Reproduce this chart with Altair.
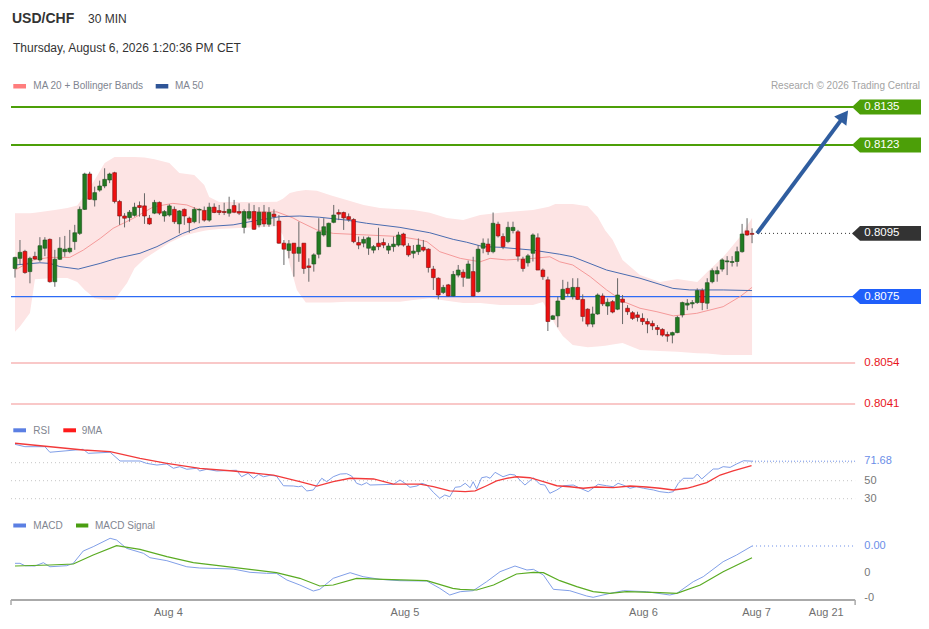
import altair as alt
import pandas as pd

FONT = "Liberation Sans"

# ---------------- data ----------------
open_ = [
    .80839, .80871, .80893, .80829, .80877, .80866, .80903, .80931, .80797, .80868,
    .80892, .80892, .80924, .80950, .81026, .81138, .81056, .81087, .81100, .81119,
    .81142, .81051, .81005, .81000, .81007, .81038, .81037, .80998, .81014, .81048,
    .81005, .81008, .81026, .80980, .81026, .80998, .80987, .81024, .81022, .80992,
    .81033, .81022, .81019, .81014, .81038, .81019, .80969, .80998, .81019, .80977,
    .81017, .80979, .81011, .80989, .80919, .80896, .80919, .80887, .80919, .80847,
    .80853, .80884, .80945, .80908, .80985, .81016, .81016, .81003, .80994, .80921,
    .80919, .80903, .80897, .80919, .80921, .80897, .80908, .80913, .80948, .80910,
    .80887, .80892, .80906, .80900, .80837, .80808, .80763, .80787, .80752, .80818,
    .80827, .80808, .80829, .80766, .80903, .80916, .80892, .80979, .80940, .80924,
    .80959, .80955, .80868, .80857, .80887, .80936, .80834, .80803, .80678, .80689,
    .80741, .80776, .80750, .80779, .80741, .80710, .80663, .80695, .80752, .80720,
    .80734, .80710, .80742, .80713, .80699, .80692, .80681, .80671, .80665, .80652,
    .80646, .80630, .80628, .80636, .80692, .80723, .80727, .80731, .80769, .80729,
    .80797, .80822, .80837, .80860, .80858, .80861, .80892, .80958, .80950]
high = [
    .80876, .80929, .80898, .80876, .80892, .80938, .80938, .80934, .80898, .80938,
    .80942, .80961, .80977, .81035, .81142, .81145, .81098, .81117, .81156, .81142,
    .81145, .81056, .81014, .81024, .81047, .81051, .81077, .81008, .81056, .81051,
    .81024, .81042, .81035, .81024, .81029, .81003, .81033, .81029, .81035, .81047,
    .81045, .81040, .81047, .81066, .81056, .81045, .81026, .81045, .81040, .81033,
    .81040, .81033, .81026, .81008, .80929, .80929, .80919, .80987, .80919, .80871,
    .80887, .80998, .80998, .80984, .81040, .81026, .81019, .81013, .80998, .80940,
    .80940, .80940, .80913, .80968, .80934, .80919, .80940, .80955, .80952, .80919,
    .80913, .80934, .80929, .80903, .80847, .80811, .80787, .80790, .80831, .80850,
    .80836, .80864, .80876, .80913, .80934, .80934, .81016, .80987, .80950, .80987,
    .80987, .80961, .80876, .80885, .80950, .80950, .80839, .80813, .80692, .80750,
    .80803, .80797, .80808, .80808, .80757, .80713, .80718, .80760, .80760, .80744,
    .80739, .80808, .80755, .80723, .80704, .80702, .80697, .80681, .80674, .80660,
    .80650, .80639, .80639, .80689, .80734, .80742, .80739, .80776, .80776, .80808,
    .80839, .80845, .80871, .80878, .80878, .80908, .80980, .80998, .80966]
low = [
    .80810, .80850, .80822, .80792, .80866, .80860, .80878, .80794, .80781, .80866,
    .80876, .80887, .80898, .80945, .81024, .81056, .81035, .81082, .81093, .81109,
    .81045, .80977, .80969, .80987, .81003, .81003, .80980, .80977, .81011, .81008,
    .80987, .81003, .80980, .80950, .80977, .80952, .80982, .80982, .80987, .80987,
    .81014, .81008, .81008, .81003, .81014, .81008, .80950, .80992, .80961, .80969,
    .80971, .80971, .80973, .80917, .80850, .80871, .80813, .80860, .80822, .80797,
    .80829, .80871, .80940, .80908, .80982, .80992, .80961, .80987, .80919, .80900,
    .80906, .80882, .80887, .80897, .80903, .80885, .80892, .80908, .80908, .80876,
    .80871, .80882, .80892, .80826, .80771, .80741, .80758, .80750, .80750, .80811,
    .80781, .80808, .80750, .80762, .80887, .80882, .80887, .80937, .80900, .80919,
    .80950, .80861, .80829, .80845, .80861, .80834, .80803, .80641, .80676, .80653,
    .80739, .80750, .80741, .80739, .80671, .80655, .80653, .80692, .80720, .80692,
    .80697, .80707, .80663, .80692, .80676, .80671, .80660, .80634, .80644, .80628,
    .80623, .80607, .80602, .80634, .80684, .80707, .80713, .80727, .80707, .80710,
    .80792, .80797, .80829, .80818, .80845, .80845, .80889, .80942, .80919]
close = [
    .80874, .80890, .80826, .80871, .80869, .80911, .80929, .80797, .80868, .80903,
    .80900, .80903, .80952, .81026, .81138, .81058, .81079, .81100, .81121, .81138,
    .81051, .81005, .80998, .81017, .81033, .81032, .81005, .80980, .81048, .81014,
    .81019, .81037, .80987, .81021, .81005, .80984, .81026, .81026, .80992, .81033,
    .81016, .81016, .81016, .81026, .81017, .81014, .81019, .81019, .80963, .81017,
    .80980, .81016, .81003, .80919, .80900, .80917, .80887, .80906, .80839, .80842,
    .80882, .80955, .80971, .80982, .81008, .81011, .80999, .80994, .80924, .80913,
    .80931, .80936, .80908, .80908, .80913, .80910, .80916, .80945, .80913, .80882,
    .80894, .80913, .80897, .80842, .80810, .80755, .80779, .80752, .80820, .80834,
    .80811, .80853, .80752, .80900, .80919, .80892, .80982, .80942, .80908, .80969,
    .80969, .80878, .80839, .80879, .80945, .80834, .80813, .80671, .80689, .80736,
    .80773, .80760, .80779, .80741, .80687, .80663, .80695, .80755, .80727, .80732,
    .80701, .80755, .80732, .80702, .80681, .80684, .80671, .80663, .80657, .80646,
    .80628, .80625, .80636, .80684, .80731, .80729, .80731, .80769, .80731, .80794,
    .80832, .80832, .80866, .80863, .80861, .80892, .80948, .80945, .80947]

band_i = [0, 1, 3, 4, 8, 10.5, 12.5, 14, 16, 18, 20, 22.5, 24, 26, 28, 31, 33, 34.5, 36, 38,
          39, 41, 45, 50, 52.6, 53.8, 55.2, 56.6, 58.4, 60.6, 63.5, 66.6, 70, 73.3, 77.3, 80,
          83.3, 86.7, 90, 93.4, 97.4, 99, 104, 106, 107.2, 108.5, 110, 112, 115, 117, 118.5,
          120, 122, 125.5, 129.5, 133, 137, 139, 142.2, 145.6, 148]
band_up = [.81014, .81014, .81014, .81015, .81024, .81030, .81038, .81071, .81119, .81173,
           .81192, .81192, .81192, .81190, .81185, .81173, .81141, .81138, .81135, .81103,
           .81065, .81049, .81049, .81049, .81050, .81060, .81078, .81083, .81087, .81085,
           .81070, .81056, .81040, .81030, .81026, .81024, .81015, .80999, .80992, .81008,
           .81015, .81018, .81024, .81030, .81034, .81043, .81043, .81043, .81036, .81002,
           .80960, .80930, .80866, .80818, .80796, .80806, .80796, .80828, .80875, .80939,
           .80999]
band_lo = [.80639, .80655, .80698, .80805, .80809, .80809, .80796, .80771, .80745, .80740,
           .80740, .80793, .80840, .80870, .80890, .80920, .80935, .80945, .80951, .80958,
           .80961, .80964, .80967, .80970, .80973, .80945, .80850, .80771, .80731, .80731,
           .80731, .80734, .80734, .80734, .80734, .80739, .80745, .80737, .80730, .80730,
           .80723, .80723, .80723, .80733, .80700, .80660, .80625, .80597, .80590, .80592,
           .80594, .80598, .80603, .80581, .80578, .80575, .80571, .80570, .80565, .80565,
           .80565]

ma20_i = [0, 3.7, 7, 11, 13.7, 17.1, 19.7, 23.8, 27.8, 31.7, 34.5, 37.1, 43.2, 49.2, 52.6,
          55.8, 57.2, 60.6, 63.9, 70.6, 77.3, 80.7, 82.7, 85.3, 89.4, 93.4, 95.4, 98.7, 104.1,
          107.4, 109.4, 112, 115.5, 118.8, 122.2, 125.5, 128.9, 132.2, 136.9, 142.2, 145.6, 148]
ma20_v = [.80834, .80866, .80874, .80874, .80897, .80934, .80966, .80998, .81034, .81045,
          .81040, .81024, .81018, .81018, .81018, .80999, .80987, .80961, .80950, .80945,
          .80940, .80931, .80924, .80892, .80871, .80860, .80871, .80866, .80871, .80876,
          .80860, .80850, .80813, .80771, .80734, .80713, .80702, .80689, .80697, .80718,
          .80750, .80779]
ma50_i = [0, 5, 7, 9, 12.7, 17.1, 20.4, 25.1, 28.5, 33.7, 37.1, 43.8, 47.2, 53.2, 57.2, 61.2,
          66.6, 70.6, 77.3, 83.3, 88, 90.7, 94, 97.4, 104, 109.4, 112, 118.8, 125.5, 132.1,
          135.5, 142.2, 148]
ma50_v = [.80850, .80857, .80855, .80845, .80837, .80855, .80871, .80887, .80908, .80950,
          .80970, .80977, .80987, .81003, .81005, .81001, .80992, .80982, .80969, .80952,
          .80931, .80922, .80908, .80906, .80897, .80884, .80876, .80834, .80808, .80776,
          .80771, .80771, .80769]

rsi_i = [0, 2, 6, 7, 13.7, 14.7, 19.1, 21.1, 25.1, 26.4, 28.5, 30.5, 31.8, 33.1, 34.5, 36.5,
         37.1, 38.5, 40.5, 44.5, 45.5, 46.8, 47.9, 48.9, 49.9, 51.2, 52.5, 53.9, 55.9, 56.9,
         57.6, 58.6, 59.9, 61.6, 62.6, 63.9, 65.3, 66.6, 67.6, 68.6, 69.6, 70.6, 71.3, 76,
         77.3, 78.3, 79.3, 80.7, 81.7, 82.7, 84, 85.3, 86.3, 87.3, 88.4, 89.4, 90.4, 91.4, 92,
         92.7, 93.7, 94.7, 95.4, 96.4, 98, 99.4, 100.4, 101.7, 102.4, 104.1, 105.4, 106.4,
         107.4, 108.8, 110.1, 112.1, 113.5, 115.1, 117.1, 118.8, 120.1, 121.1, 122.1, 123.5,
         124.8, 126.2, 128.2, 129.5, 131.2, 132.2, 133.2, 134.2, 136.2, 137, 137.9, 139.2,
         140.2, 141.2, 142.2, 143.6, 144.9, 146.3, 148]
rsi_v = [90.4, 87.8, 87.8, 81.6, 84.9, 80.4, 81.6, 71.9, 71.9, 69.3, 67.4, 68.6, 63.8, 65.6,
         62.7, 63.8, 60.8, 62.7, 60.8, 61.6, 54.4, 58.2, 52.7, 57.1, 54.4, 56.0, 55.2, 44.4,
         44.1, 43.3, 44.1, 38.6, 39.7, 52.7, 48.9, 54.4, 57.4, 57.8, 55.2, 47.1, 45.2, 47.8,
         45.2, 46.0, 50.8, 47.1, 42.7, 44.1, 47.1, 45.2, 37.1, 30.4, 34.1, 32.2, 42.7, 43.3,
         47.1, 42.2, 48.9, 40.8, 53.3, 54.4, 52.7, 59.3, 54.4, 57.1, 56.3, 48.9, 45.2, 53.3,
         46.0, 45.2, 36.0, 39.7, 44.4, 45.2, 41.6, 37.8, 46.0, 44.4, 43.3, 47.1, 45.2, 41.6,
         43.3, 41.6, 39.7, 37.8, 36.7, 37.8, 47.1, 52.7, 52.7, 57.4, 51.9, 58.2, 63.0, 63.0,
         65.6, 64.8, 68.6, 72.2, 71.68]
rsima_i = [0, 13.7, 19.1, 25.1, 30.5, 37.1, 43.8, 51.9, 57.2, 60.6, 63.9, 67.3, 72, 76, 81.3,
           84, 87.3, 90.4, 92.4, 94.7, 96.7, 98.7, 100.7, 103.4, 106.1, 108.8, 111.4, 114.1,
           116.8, 120.1, 123.5, 126.8, 129.5, 132.2, 134.9, 136.2, 138.9, 141.6, 144.2, 147.9]
rsima_v = [91.6, 84.1, 82.2, 74.9, 69.3, 63.8, 60.8, 56.3, 48.9, 44.1, 48.9, 52.7, 51.9, 46.3,
           46.3, 43.3, 38.6, 37.8, 38.6, 44.4, 49.7, 52.7, 54.4, 53.3, 48.9, 44.4, 43.3, 41.6,
           43.0, 42.2, 44.1, 43.0, 41.6, 39.7, 41.6, 43.3, 47.8, 56.3, 60.8, 66.7]

macd_i = [0, 1, 2, 4, 5.7, 7, 10.4, 11.7, 13.7, 15.7, 19.1, 20.4, 22.4, 25.8, 27.1, 30.5, 34.5,
          37.1, 43.8, 47.2, 50.5, 52.5, 54.6, 57.2, 59.9, 61.2, 63.9, 67.3, 69.9, 73.3, 77.3,
          82.7, 85.3, 87.3, 89.4, 92, 94.7, 97.4, 100.4, 102.8, 104.1, 106.1, 108.1, 111.4,
          114.8, 116.1, 119.5, 122.2, 126.8, 131.5, 132.9, 136.2, 138.2, 142.2, 144.9, 148]
macd_v = [0.000155, 0.000155, 0.000117, 0.000112, 0.000165, 0.0001, 0.000117, 0.000155,
          0.000352, 0.000421, 0.000555, 0.000528, 0.000395, 0.000315, 0.000245, 0.000197,
          0.0001, 0.00008, 0.000064, 0.000011, -0.000005, -0.000005, -0.000112, -0.000192,
          -0.000288, -0.000261, -0.000085, 0.000005, -0.000059, -0.000101, -0.000123,
          -0.000128, -0.000245, -0.000352, -0.000299, -0.000283, -0.000139, 0.000021,
          0.000112, 0.000048, 0.000059, -0.000032, -0.000261, -0.000283, -0.000368,
          -0.000389, -0.000325, -0.000283, -0.000299, -0.000352, -0.000325, -0.000139,
          -0.000059, 0.000181, 0.000288, 0.000432]
sig_i = [0, 7, 11.7, 15.7, 20.4, 25.1, 30.5, 35.8, 43.8, 52.5, 57.2, 61.2, 63.9, 68.6, 74,
         82.7, 87.9, 89.4, 92.7, 96.1, 100.7, 104.1, 106.1, 109.4, 112.8, 116.1, 119.5, 122.8,
         129.5, 132.9, 137.6, 142.2, 148]
sig_v = [0.000112, 0.000128, 0.000144, 0.000288, 0.000437, 0.000379, 0.000261, 0.000165,
         0.000091, 0.000005, -0.000085, -0.000208, -0.000192, -0.000085, -0.000101,
         -0.000123, -0.000245, -0.000261, -0.000272, -0.000192, -0.000016, 0.000011,
         0.000005, -0.000123, -0.000219, -0.000299, -0.000325, -0.000299, -0.000315,
         -0.000325, -0.000192, 0.000021, 0.000245]

levels = [0.8135, 0.8123, 0.8095, 0.8075, 0.8054, 0.8041]
level_labels = ["0.8135", "0.8123", "0.8095", "0.8075", "0.8054", "0.8041"]
rsi_levels = [70, 50, 30]
rsi_last = 71.68
macd_last = 0.000432
macd_ticks = [0, -0.0004]
macd_tick_labels = ["0", "-0"]
tick_pos = [30.8, 78.3, 126.2, 148.9, 162.9]
tick_labels = ["Aug 4", "Aug 5", "Aug 6", "Aug 7", "Aug 21"]
AX0, AX1 = -0.8, 168.7          # extent of the time axis (candle index units)
arrow_from = (149, 0.8095)
arrow_to = (166.5, 0.81322)

# ---------------- scales (pixel bands of the three panels) ----------------
XS = alt.Scale(domain=[0, 148], range=[7, 744.04], nice=False, zero=False, padding=0)
PS = alt.Scale(domain=[0.8041, 0.8135], range=[396, 99], nice=False, zero=False, padding=0)
RS = alt.Scale(domain=[30, 70], range=[490.7, 454.7], nice=False, zero=False, padding=0)
MS = alt.Scale(domain=[-0.0004, 0], range=[590, 565], nice=False, zero=False, padding=0)

GREEN_LVL = "#4c9f08"
BLUE_LVL = "#2d6bf5"
RED_LVL = "#f7b6b6"
TAG_PATH = "M -1 0 L -0.768 -0.217 L 1 -0.217 L 1 0.217 L -0.768 0.217 Z"
TAG_SIZE = 69 * 69
TAG_X = 878.5
LABEL_X = 856.3


def X(f):
    return alt.X(f, type="quantitative", scale=XS, axis=None)


def Yp(f, sc):
    return alt.Y(f, type="quantitative", scale=sc, axis=None)


def text_at(s, x, y, size=10, color="#7f8590", weight="normal", align="left"):
    return alt.Chart(pd.DataFrame({"t": [s]})).mark_text(
        align=align, baseline="middle", fontSize=size, color=color,
        fontWeight=weight, font=FONT).encode(
        text="t:N", x=alt.value(x), y=alt.value(y))


def swatch(x0, x1, y0, y1, color):
    return alt.Chart(pd.DataFrame({"a": [0]})).mark_rect(color=color).encode(
        x=alt.value(x0), x2=alt.value(x1), y=alt.value(y0), y2=alt.value(y1))


# ---------------- price panel ----------------
candles = pd.DataFrame({"i": list(range(len(open_))), "open": open_, "high": high,
                        "low": low, "close": close})
band_df = pd.DataFrame({"i": band_i, "hi": band_up, "lo": band_lo})

price_layers = [
    alt.Chart(band_df).mark_area(color="#fde4e4", opacity=1).encode(
        x=X("i"), y=Yp("lo", PS), y2="hi"),
]

level_style = {
    0.8135: dict(color=GREEN_LVL, strokeWidth=2),
    0.8123: dict(color=GREEN_LVL, strokeWidth=2),
    0.8075: dict(color=BLUE_LVL, strokeWidth=1.3),
    0.8054: dict(color=RED_LVL, strokeWidth=1.5),
    0.8041: dict(color=RED_LVL, strokeWidth=1.5),
}
for lv, st in level_style.items():
    price_layers.append(
        alt.Chart(pd.DataFrame({"lvl": [lv], "x0": [AX0], "x1": [AX1]})).mark_rule(**st).encode(
            x=X("x0"), x2="x1", y=Yp("lvl", PS)))
price_layers.append(
    alt.Chart(pd.DataFrame({"lvl": [levels[2]], "x0": [arrow_from[0]], "x1": [AX1]})).mark_rule(
        color="#333333", strokeWidth=1, strokeDash=[1, 3]).encode(
        x=X("x0"), x2="x1", y=Yp("lvl", PS)))

price_layers += [
    alt.Chart(pd.DataFrame({"i": ma20_i, "v": ma20_v})).mark_line(
        color="#f59a9a", strokeWidth=1).encode(x=X("i"), y=Yp("v", PS)),
    alt.Chart(pd.DataFrame({"i": ma50_i, "v": ma50_v})).mark_line(
        color="#4a6cb0", strokeWidth=1).encode(x=X("i"), y=Yp("v", PS)),
    alt.Chart(candles).mark_rule(color="#666666", strokeWidth=1).encode(
        x=X("i"), y=Yp("low", PS), y2="high"),
    alt.Chart(candles).mark_bar(width=3.8, strokeWidth=0.6).encode(
        x=X("i"), y=Yp("open", PS), y2="close",
        color=alt.when("datum.close >= datum.open").then(alt.value("#217a21")).otherwise(alt.value("#ee1010")),
        stroke=alt.when("datum.close >= datum.open").then(alt.value("#1f4f1f")).otherwise(alt.value("#7a1010"))),
]

arrow_df = pd.DataFrame({"x0": [arrow_from[0]], "y0": [arrow_from[1]],
                         "x1": [arrow_to[0]], "y1": [arrow_to[1]]})
price_layers += [
    alt.Chart(arrow_df).mark_rule(color="#2f5d9f", strokeWidth=4).encode(
        x=X("x0"), y=Yp("y0", PS), x2="x1", y2="y1"),
    alt.Chart(arrow_df).mark_point(shape="triangle-up", filled=True, size=230, angle=36.5,
                                   color="#2f5d9f", opacity=1).encode(
        x=X("x1"), y=Yp("y1", PS)),
]

tag_colors = {0: GREEN_LVL, 1: GREEN_LVL, 2: "#333333", 3: "#1f5ffa"}
for k, c in tag_colors.items():
    d = pd.DataFrame({"lvl": [levels[k]], "lab": [level_labels[k]]})
    price_layers.append(alt.Chart(d).mark_point(
        shape=TAG_PATH, filled=True, size=TAG_SIZE, opacity=1, color=c, strokeWidth=0).encode(
        x=alt.value(TAG_X), y=Yp("lvl", PS)))
    price_layers.append(alt.Chart(d).mark_text(
        align="left", baseline="middle", fontSize=11.5, color="white", font=FONT).encode(
        x=alt.value(LABEL_X), y=Yp("lvl", PS), text="lab:N"))
for k in (4, 5):
    d = pd.DataFrame({"lvl": [levels[k]], "lab": [level_labels[k]]})
    price_layers.append(alt.Chart(d).mark_text(
        align="left", baseline="middle", fontSize=11.5, color="#e8161c", font=FONT).encode(
        x=alt.value(LABEL_X), y=Yp("lvl", PS), text="lab:N"))

price = alt.layer(*price_layers)

# ---------------- RSI panel ----------------
rsi_layers = [
    alt.Chart(pd.DataFrame({"v": rsi_levels, "x0": [AX0] * 3, "x1": [AX1] * 3})).mark_rule(
        color="#c4c4c4", strokeWidth=1, strokeDash=[1, 3]).encode(
        x=X("x0"), x2="x1", y=Yp("v", RS)),
    alt.Chart(pd.DataFrame({"v": [rsi_last], "x0": [148], "x1": [AX1]})).mark_rule(
        color="#6b8ee8", strokeWidth=1, strokeDash=[1, 2]).encode(
        x=X("x0"), x2="x1", y=Yp("v", RS)),
    alt.Chart(pd.DataFrame({"i": rsi_i, "v": rsi_v})).mark_line(
        color="#819fe8", strokeWidth=1).encode(x=X("i"), y=Yp("v", RS)),
    alt.Chart(pd.DataFrame({"i": rsima_i, "v": rsima_v})).mark_line(
        color="#f23a3a", strokeWidth=1.3).encode(x=X("i"), y=Yp("v", RS)),
    alt.Chart(pd.DataFrame({"v": [rsi_last], "lab": [f"{rsi_last:.2f}"]})).mark_text(
        align="left", baseline="middle", fontSize=11, color="#6b8ee8", font=FONT).encode(
        x=alt.value(LABEL_X), y=Yp("v", RS), text="lab:N"),
    alt.Chart(pd.DataFrame({"v": rsi_levels[1:], "lab": [str(v) for v in rsi_levels[1:]]})).mark_text(
        align="left", baseline="middle", fontSize=11, color="#777777", font=FONT).encode(
        x=alt.value(LABEL_X), y=Yp("v", RS), text="lab:N"),
]
rsi = alt.layer(*rsi_layers)

# ---------------- MACD panel ----------------
macd_layers = [
    alt.Chart(pd.DataFrame({"v": [macd_last], "x0": [148], "x1": [AX1]})).mark_rule(
        color="#6b8ee8", strokeWidth=1, strokeDash=[1, 3]).encode(
        x=X("x0"), x2="x1", y=Yp("v", MS)),
    alt.Chart(pd.DataFrame({"i": macd_i, "v": macd_v})).mark_line(
        color="#819fe8", strokeWidth=1).encode(x=X("i"), y=Yp("v", MS)),
    alt.Chart(pd.DataFrame({"i": sig_i, "v": sig_v})).mark_line(
        color="#5aab22", strokeWidth=1.2).encode(x=X("i"), y=Yp("v", MS)),
    alt.Chart(pd.DataFrame({"v": [macd_last], "lab": ["0.00"]})).mark_text(
        align="left", baseline="middle", fontSize=11, color="#6b8ee8", font=FONT).encode(
        x=alt.value(LABEL_X), y=Yp("v", MS), text="lab:N"),
    alt.Chart(pd.DataFrame({"v": macd_ticks, "lab": macd_tick_labels})).mark_text(
        align="left", baseline="middle", fontSize=11, color="#777777", font=FONT).encode(
        x=alt.value(LABEL_X), y=Yp("v", MS), text="lab:N"),
]
macd = alt.layer(*macd_layers)

# ---------------- header, legends, time axis ----------------
misc_layers = [
    text_at("USD/CHF", 4, 11, size=14, color="#333333", weight="bold"),
    text_at("30 MIN", 80, 11, size=12, color="#333333"),
    text_at("Thursday, August 6, 2026 1:20:36 PM CET", 5, 40, size=12, color="#333333"),
    swatch(5.3, 18, 76, 80.5, "#ff7d7d"),
    text_at("MA 20 + Bollinger Bands", 25.3, 78, size=10),
    swatch(147.7, 160.3, 76, 80.5, "#2f5597"),
    text_at("MA 50", 167, 78, size=10),
    text_at("Research \u00a9 2026 Trading Central", 912, 78, size=10, color="#a3a3a3", align="right"),
    swatch(5.3, 18, 420.3, 424.3, "#5b7fe3"),
    text_at("RSI", 25.3, 422.5, size=10),
    swatch(55.3, 68, 420.3, 424.3, "#ff1a1a"),
    text_at("9MA", 73.7, 422.5, size=10),
    swatch(5.3, 18, 515.5, 519.5, "#5b7fe3"),
    text_at("MACD", 25.3, 517.5, size=10),
    swatch(68, 80.3, 515.5, 519.5, "#4a9e12"),
    text_at("MACD Signal", 87, 517.5, size=10),
    alt.Chart(pd.DataFrame({"x0": [AX0], "x1": [AX1]})).mark_rule(
        color="#aaaaaa", strokeWidth=2).encode(x=X("x0"), x2="x1", y=alt.value(592)),
    alt.Chart(pd.DataFrame({"x0": [AX0, AX1]})).mark_rule(
        color="#aaaaaa", strokeWidth=1.5).encode(x=X("x0"), y=alt.value(592), y2=alt.value(597)),
    alt.Chart(pd.DataFrame({"i": tick_pos, "lab": tick_labels})).mark_text(
        align="center", baseline="middle", fontSize=11, color="#6f6f6f", font=FONT).encode(
        x=X("i"), y=alt.value(605), text="lab:N"),
]
misc = alt.layer(*misc_layers)

chart = alt.layer(price, rsi, macd, misc).resolve_scale(y="independent").properties(
    width=913, height=613, padding=0,
    autosize=alt.AutoSizeParams(type="none"),
    background="white",
).configure_view(stroke=None)

chart.save("out.html", embed_options={"renderer": "svg", "actions": False})
